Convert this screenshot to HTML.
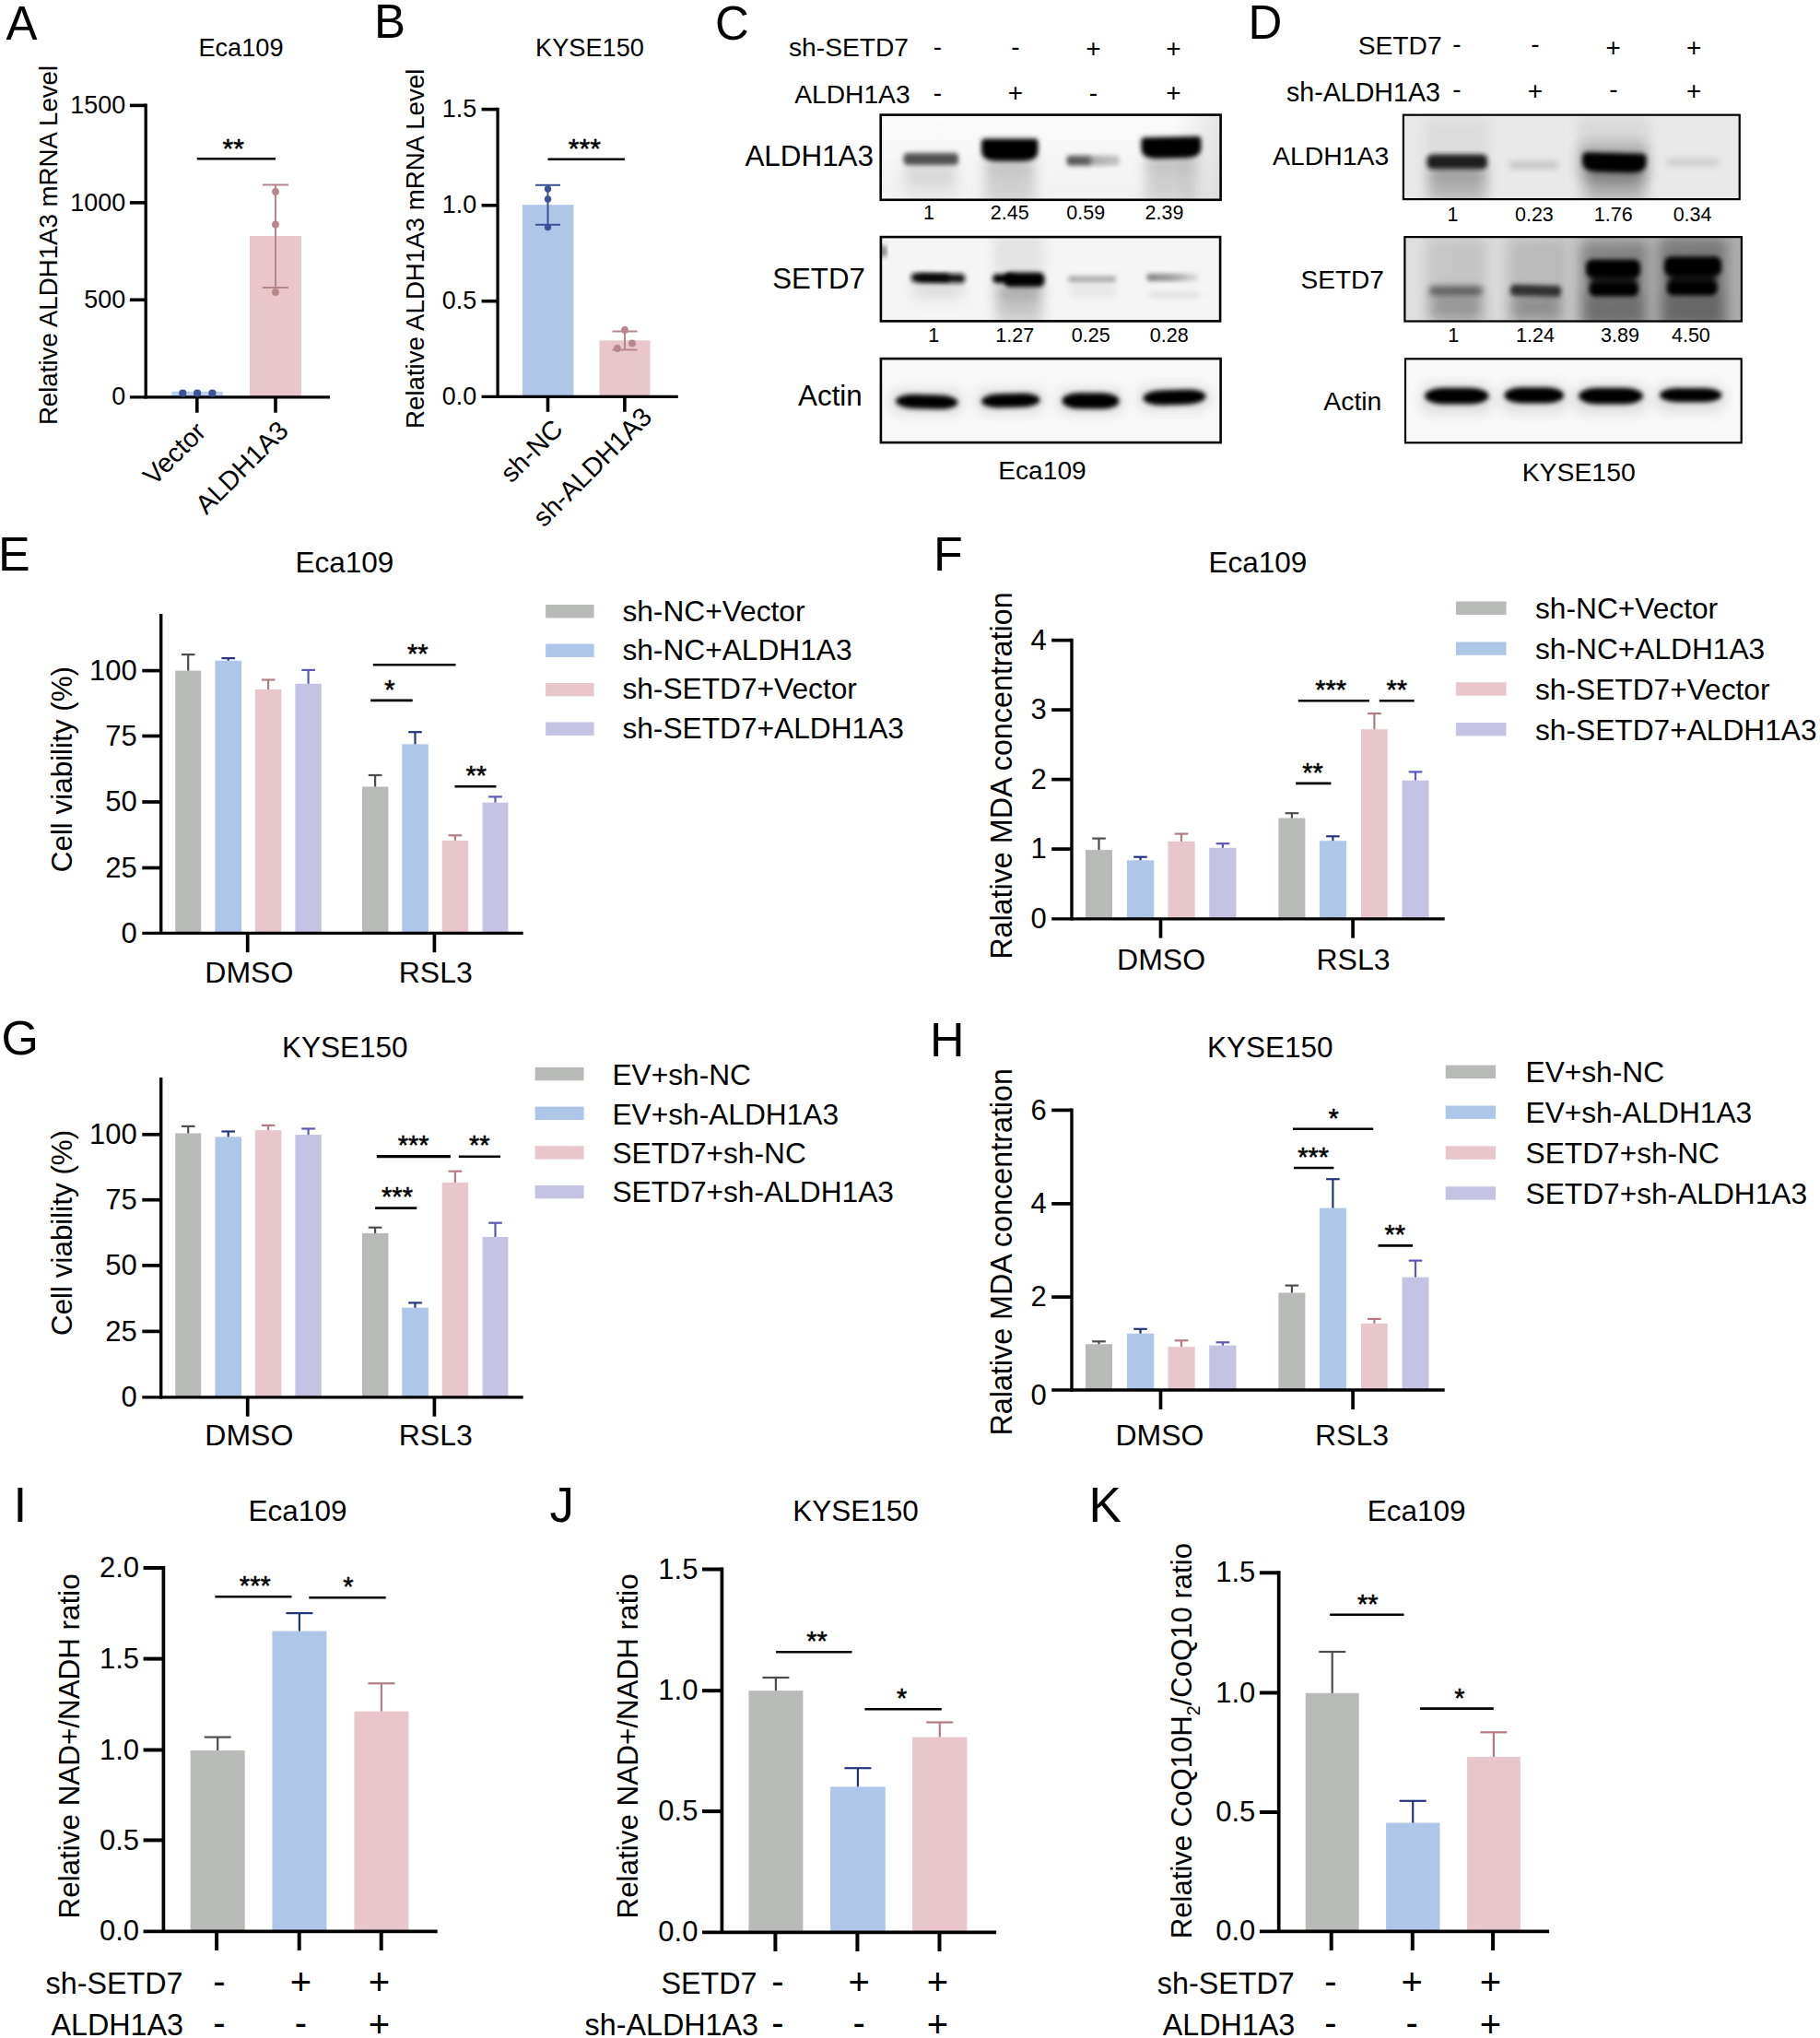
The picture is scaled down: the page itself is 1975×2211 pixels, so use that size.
<!DOCTYPE html>
<html lang="en"><head><meta charset="utf-8"><title>Figure</title>
<style>html,body{margin:0;padding:0;background:#fff;width:1975px;height:2211px;overflow:hidden}svg{display:block}text{font-family:"Liberation Sans", Arial, sans-serif;fill:#000}</style>
</head><body>
<svg width="1975" height="2211" viewBox="0 0 1975 2211">
<defs>
<filter id="b1" x="-30%" y="-250%" width="160%" height="600%"><feGaussianBlur stdDeviation="2.6"/></filter>
<filter id="b2" x="-30%" y="-300%" width="160%" height="700%"><feGaussianBlur stdDeviation="3.6"/></filter>
<filter id="b3" x="-50%" y="-150%" width="200%" height="400%"><feGaussianBlur stdDeviation="7"/></filter>
</defs>
<rect width="1975" height="2211" fill="#fff"/>
<text x="6.5" y="42.5" font-size="51" text-anchor="start">A</text>
<text x="406.0" y="41.0" font-size="51" text-anchor="start">B</text>
<text x="776.0" y="42.5" font-size="51" text-anchor="start">C</text>
<text x="1354.5" y="42.0" font-size="51" text-anchor="start">D</text>
<text x="-2.0" y="618.5" font-size="52" text-anchor="start">E</text>
<text x="1013.0" y="618.5" font-size="52" text-anchor="start">F</text>
<text x="1.5" y="1144.0" font-size="52" text-anchor="start">G</text>
<text x="1009.0" y="1146.0" font-size="52" text-anchor="start">H</text>
<text x="14.5" y="1651.2" font-size="53" text-anchor="start">I</text>
<text x="596.5" y="1651.2" font-size="53" text-anchor="start">J</text>
<text x="1181.5" y="1651.2" font-size="53" text-anchor="start">K</text>
<text x="261.5" y="60.5" font-size="27.2" text-anchor="middle">Eca109</text>
<text x="62.0" y="266.0" font-size="27.65" text-anchor="middle" transform="rotate(-90 62.0 266.0)">Relative ALDH1A3 mRNA Level</text>
<rect x="186.3" y="424.8" width="55.7" height="6.0" fill="#b9d0f0"/>
<rect x="271.0" y="256.0" width="56.0" height="174.8" fill="#e8c6cb"/>
<line x1="158.2" y1="112.6" x2="158.2" y2="432.4" stroke="#000" stroke-width="3.3000000000000003" stroke-linecap="butt"/>
<line x1="140.9" y1="430.8" x2="358.0" y2="430.8" stroke="#000" stroke-width="3.3000000000000003" stroke-linecap="butt"/>
<line x1="140.9" y1="114.4" x2="158.2" y2="114.4" stroke="#000" stroke-width="3.6" stroke-linecap="butt"/>
<text x="136.1" y="123.0" font-size="26.9" text-anchor="end">1500</text>
<line x1="140.9" y1="219.9" x2="158.2" y2="219.9" stroke="#000" stroke-width="3.6" stroke-linecap="butt"/>
<text x="136.1" y="228.5" font-size="26.9" text-anchor="end">1000</text>
<line x1="140.9" y1="325.3" x2="158.2" y2="325.3" stroke="#000" stroke-width="3.6" stroke-linecap="butt"/>
<text x="136.1" y="333.9" font-size="26.9" text-anchor="end">500</text>
<text x="136.1" y="439.4" font-size="26.9" text-anchor="end">0</text>
<line x1="213.8" y1="430.8" x2="213.8" y2="447.7" stroke="#000" stroke-width="3.6" stroke-linecap="butt"/>
<line x1="299.0" y1="430.8" x2="299.0" y2="447.7" stroke="#000" stroke-width="3.6" stroke-linecap="butt"/>
<circle cx="198.3" cy="426.5" r="4.1" fill="#3d5394"/>
<circle cx="214.1" cy="426.5" r="4.1" fill="#3d5394"/>
<circle cx="230.4" cy="426.5" r="4.1" fill="#3d5394"/>
<line x1="299.0" y1="200.5" x2="299.0" y2="312.0" stroke="#b9868c" stroke-width="2" stroke-linecap="butt"/>
<line x1="285.0" y1="200.5" x2="313.0" y2="200.5" stroke="#b9868c" stroke-width="2" stroke-linecap="butt"/>
<line x1="285.0" y1="312.0" x2="313.0" y2="312.0" stroke="#b9868c" stroke-width="2" stroke-linecap="butt"/>
<circle cx="299" cy="208" r="3.9" fill="#b9868c"/>
<circle cx="299" cy="243.5" r="3.9" fill="#b9868c"/>
<circle cx="299" cy="317" r="3.9" fill="#b9868c"/>
<line x1="213.8" y1="172.2" x2="299.0" y2="172.2" stroke="#000" stroke-width="2.4" stroke-linecap="butt"/>
<text x="253.2" y="170.8" font-size="30" text-anchor="middle" stroke="#000" stroke-width="0.5">**</text>
<text x="225.0" y="470.1" font-size="28.8" text-anchor="end" transform="rotate(-45 225.0 470.1)">Vector</text>
<text x="314.6" y="468.8" font-size="28.8" text-anchor="end" transform="rotate(-45 314.6 468.8)">ALDH1A3</text>
<text x="640.0" y="60.5" font-size="27.2" text-anchor="middle">KYSE150</text>
<text x="460.3" y="269.8" font-size="27.65" text-anchor="middle" transform="rotate(-90 460.3 269.8)">Relative ALDH1A3 mRNA Level</text>
<rect x="566.9" y="222.2" width="55.6" height="208.1" fill="#aec7e8"/>
<rect x="650.5" y="369.4" width="55.0" height="60.9" fill="#e8c6cb"/>
<line x1="540.1" y1="116.8" x2="540.1" y2="431.9" stroke="#000" stroke-width="3.3000000000000003" stroke-linecap="butt"/>
<line x1="522.6" y1="430.3" x2="735.8" y2="430.3" stroke="#000" stroke-width="3.3000000000000003" stroke-linecap="butt"/>
<line x1="522.6" y1="118.6" x2="540.1" y2="118.6" stroke="#000" stroke-width="3.6" stroke-linecap="butt"/>
<text x="517.1" y="127.2" font-size="26.9" text-anchor="end">1.5</text>
<line x1="522.6" y1="222.8" x2="540.1" y2="222.8" stroke="#000" stroke-width="3.6" stroke-linecap="butt"/>
<text x="517.1" y="231.4" font-size="26.9" text-anchor="end">1.0</text>
<line x1="522.6" y1="326.7" x2="540.1" y2="326.7" stroke="#000" stroke-width="3.6" stroke-linecap="butt"/>
<text x="517.1" y="335.3" font-size="26.9" text-anchor="end">0.5</text>
<text x="517.1" y="438.9" font-size="26.9" text-anchor="end">0.0</text>
<line x1="594.5" y1="430.3" x2="594.5" y2="446.8" stroke="#000" stroke-width="3.6" stroke-linecap="butt"/>
<line x1="677.9" y1="430.3" x2="677.9" y2="446.8" stroke="#000" stroke-width="3.6" stroke-linecap="butt"/>
<line x1="594.5" y1="200.8" x2="594.5" y2="243.8" stroke="#3d5296" stroke-width="2" stroke-linecap="butt"/>
<line x1="581.0" y1="200.8" x2="608.0" y2="200.8" stroke="#3d5296" stroke-width="2" stroke-linecap="butt"/>
<line x1="581.0" y1="243.8" x2="608.0" y2="243.8" stroke="#3d5296" stroke-width="2" stroke-linecap="butt"/>
<circle cx="594.5" cy="205" r="3.7" fill="#3d5296"/>
<circle cx="594.5" cy="216" r="3.7" fill="#3d5296"/>
<circle cx="594.5" cy="246.5" r="3.7" fill="#3d5296"/>
<line x1="678.0" y1="359.5" x2="678.0" y2="379.5" stroke="#b9868c" stroke-width="2" stroke-linecap="butt"/>
<line x1="664.5" y1="359.5" x2="691.5" y2="359.5" stroke="#b9868c" stroke-width="2" stroke-linecap="butt"/>
<line x1="664.5" y1="379.5" x2="691.5" y2="379.5" stroke="#b9868c" stroke-width="2" stroke-linecap="butt"/>
<circle cx="678" cy="358" r="3.9" fill="#b9868c"/>
<circle cx="686" cy="372.5" r="3.9" fill="#b9868c"/>
<circle cx="670" cy="378" r="3.9" fill="#b9868c"/>
<line x1="594.5" y1="172.8" x2="677.9" y2="172.8" stroke="#000" stroke-width="2.4" stroke-linecap="butt"/>
<text x="634.3" y="171.4" font-size="30" text-anchor="middle" stroke="#000" stroke-width="0.5">***</text>
<text x="612.6" y="467.4" font-size="28.8" text-anchor="end" transform="rotate(-45 612.6 467.4)">sh-NC</text>
<text x="709.1" y="454.2" font-size="28.8" text-anchor="end" transform="rotate(-45 709.1 454.2)">sh-ALDH1A3</text>
<linearGradient id="sm1" x1="0" x2="0" y1="0" y2="1"><stop offset="0" stop-color="#000" stop-opacity="0.24"/><stop offset="0.4" stop-color="#000" stop-opacity="0.16"/><stop offset="1" stop-color="#000" stop-opacity="0.12"/></linearGradient>
<linearGradient id="sm2" x1="0" x2="0" y1="0" y2="1"><stop offset="0" stop-color="#000" stop-opacity="0.16"/><stop offset="1" stop-color="#000" stop-opacity="0.03"/></linearGradient>
<linearGradient id="sm3" x1="0" x2="0" y1="0" y2="1"><stop offset="0" stop-color="#000" stop-opacity="0.4"/><stop offset="0.4" stop-color="#000" stop-opacity="0.22"/><stop offset="1" stop-color="#000" stop-opacity="0.14"/></linearGradient>
<linearGradient id="bgc1" x1="0" x2="0" y1="0" y2="1"><stop offset="0" stop-color="#fbfbfb" stop-opacity="1"/><stop offset="1" stop-color="#f1f1f1" stop-opacity="1"/></linearGradient>
<linearGradient id="bgc1h" x1="0" x2="1" y1="0" y2="0"><stop offset="0" stop-color="#000" stop-opacity="0.0"/><stop offset="0.86" stop-color="#000" stop-opacity="0.0"/><stop offset="1" stop-color="#000" stop-opacity="0.09"/></linearGradient>
<linearGradient id="fadeR" x1="0" x2="1" y1="0" y2="0"><stop offset="0" stop-color="#444" stop-opacity="0.9"/><stop offset="0.42" stop-color="#444" stop-opacity="0.85"/><stop offset="0.5" stop-color="#777" stop-opacity="0.6"/><stop offset="1" stop-color="#888" stop-opacity="0.45"/></linearGradient>
<linearGradient id="fadeR2" x1="0" x2="1" y1="0" y2="0"><stop offset="0" stop-color="#555" stop-opacity="0.75"/><stop offset="0.55" stop-color="#666" stop-opacity="0.6"/><stop offset="1" stop-color="#999" stop-opacity="0.25"/></linearGradient>
<text x="986.0" y="61.0" font-size="28.2" text-anchor="end">sh-SETD7</text>
<text x="987.6" y="112.0" font-size="28.2" text-anchor="end">ALDH1A3</text>
<text x="1017.3" y="60.0" font-size="28" text-anchor="middle">-</text>
<text x="1102.0" y="60.0" font-size="28" text-anchor="middle">-</text>
<text x="1186.4" y="62.1" font-size="28" text-anchor="middle">+</text>
<text x="1273.4" y="62.1" font-size="28" text-anchor="middle">+</text>
<text x="1017.3" y="110.4" font-size="28" text-anchor="middle">-</text>
<text x="1102.0" y="109.9" font-size="28" text-anchor="middle">+</text>
<text x="1186.4" y="110.4" font-size="28" text-anchor="middle">-</text>
<text x="1273.4" y="109.9" font-size="28" text-anchor="middle">+</text>
<text x="948.0" y="179.7" font-size="31.4" text-anchor="end">ALDH1A3</text>
<text x="938.8" y="312.5" font-size="31.2" text-anchor="end">SETD7</text>
<text x="935.8" y="440.0" font-size="31.4" text-anchor="end">Actin</text>
<clipPath id="cc1"><rect x="954.4" y="123.3" width="371.5" height="94.8"/></clipPath>
<rect x="954.4" y="123.3" width="371.5" height="94.8" fill="url(#bgc1)"/>
<g clip-path="url(#cc1)">
<rect x="954" y="123" width="373" height="96" fill="url(#bgc1h)"/>
<rect x="982.0" y="180.0" width="56.0" height="34.0" fill="url(#sm2)" filter="url(#b3)"/>
<rect x="1069.0" y="172.0" width="54.0" height="50.0" fill="url(#sm1)" filter="url(#b3)"/>
<rect x="1243.0" y="170.0" width="56.0" height="52.0" fill="url(#sm1)" filter="url(#b3)"/>
<rect x="980.5" y="166.0" width="59.5" height="13.0" rx="4.5" fill="#3a3a3a" opacity="0.88" filter="url(#b1)"/>
<path d="M1069.0,150.5 L1122.5,150.5 Q1126.5,150.5 1126.5,154.5 L1126.5,163.8 Q1126.5,174.8 1108.9,174.8 L1082.6,174.8 Q1065.0,174.8 1065.0,163.8 L1065.0,154.5 Q1065.0,150.5 1069.0,150.5 Z" fill="#000" opacity="1" filter="url(#b1)"/>
<rect x="1157.5" y="168.8" width="57.5" height="11" rx="4" fill="url(#fadeR)" filter="url(#b1)"/>
<path d="M1242.5,148.5 L1299.5,148.5 Q1303.5,148.5 1303.5,152.5 L1303.5,160.8 Q1303.5,171.8 1285.9,171.8 L1256.1,171.8 Q1238.5,171.8 1238.5,160.8 L1238.5,152.5 Q1238.5,148.5 1242.5,148.5 Z" fill="#000" opacity="1" filter="url(#b1)" transform="rotate(-1.2 1271.0 160.2)"/>
</g>
<rect x="955.70" y="124.60" width="368.90" height="92.20" fill="none" stroke="#000" stroke-width="2.6"/>
<clipPath id="cc2"><rect x="954.6" y="255.8" width="370.8" height="93.9"/></clipPath>
<rect x="954.6" y="255.8" width="370.8" height="93.9" fill="#f5f5f5"/>
<g clip-path="url(#cc2)">
<rect x="956.0" y="266.0" width="6.0" height="13.0" rx="4.5" fill="#555" opacity="0.8" filter="url(#b1)"/>
<rect x="1078.0" y="254.0" width="55.0" height="46.0" rx="3.0" fill="#000" opacity="0.07" filter="url(#b3)"/>
<rect x="991.0" y="306.0" width="54.0" height="21.0" fill="url(#sm2)" filter="url(#b3)"/>
<rect x="1081.0" y="309.0" width="50.0" height="43.0" fill="url(#sm3)" filter="url(#b3)"/>
<rect x="989.0" y="296.8" width="58.0" height="9.6" rx="3.4" fill="#111" opacity="0.97" filter="url(#b1)" transform="rotate(1.0 1018.0 301.6)"/>
<rect x="996.0" y="297.5" width="34.0" height="8.0" rx="2.8" fill="#000" opacity="0.8" filter="url(#b1)"/>
<rect x="1077.5" y="297.5" width="22.5" height="9.5" rx="3.3" fill="#000" opacity="1" filter="url(#b1)"/>
<rect x="1090.0" y="295.6" width="43.5" height="15.7" rx="6.0" fill="#000" opacity="1" filter="url(#b1)"/>
<rect x="1159.0" y="299.8" width="52.0" height="6.0" rx="2.1" fill="#888" opacity="0.75" filter="url(#b1)"/>
<rect x="1244.5" y="297" width="56" height="8" rx="3.5" fill="url(#fadeR2)" filter="url(#b1)"/>
<rect x="1247.0" y="316.5" width="55.0" height="6.5" rx="2.3" fill="#000" opacity="0.09" filter="url(#b2)"/>
<rect x="1160.0" y="308.0" width="52.0" height="14.0" rx="4.9" fill="#000" opacity="0.05" filter="url(#b2)"/>
</g>
<rect x="955.90" y="257.10" width="368.20" height="91.30" fill="none" stroke="#000" stroke-width="2.6"/>
<clipPath id="cc3"><rect x="954.6" y="387.8" width="371.3" height="93.6"/></clipPath>
<rect x="954.6" y="387.8" width="371.3" height="93.6" fill="#f8f8f8"/>
<g clip-path="url(#cc3)">
<rect x="966.0" y="423.0" width="79.0" height="26.0" rx="9.1" fill="#000" opacity="0.1" filter="url(#b3)"/>
<rect x="1060.0" y="422.0" width="73.0" height="26.0" rx="9.1" fill="#000" opacity="0.1" filter="url(#b3)"/>
<rect x="1148.0" y="422.0" width="71.0" height="27.0" rx="9.4" fill="#000" opacity="0.1" filter="url(#b3)"/>
<rect x="1236.0" y="419.0" width="77.0" height="26.0" rx="9.1" fill="#000" opacity="0.1" filter="url(#b3)"/>
<rect x="972.0" y="428.2" width="67.5" height="15.2" rx="20.2" ry="7.6" fill="#000" opacity="1" filter="url(#b1)" transform="rotate(1.5 1005.8 435.8)"/>
<rect x="1065.0" y="427.0" width="63.5" height="15.0" rx="19.1" ry="7.5" fill="#000" opacity="1" filter="url(#b1)" transform="rotate(-1.5 1096.8 434.5)"/>
<rect x="1152.5" y="426.2" width="62.0" height="17.4" rx="18.6" ry="8.7" fill="#000" opacity="1" filter="url(#b1)" transform="rotate(0.3 1183.5 434.9)"/>
<rect x="1240.5" y="423.0" width="68.0" height="16.2" rx="20.4" ry="8.1" fill="#000" opacity="1" filter="url(#b1)" transform="rotate(-1.8 1274.5 431.1)"/>
</g>
<rect x="955.90" y="389.10" width="368.70" height="91.00" fill="none" stroke="#000" stroke-width="2.6"/>
<text x="1008.0" y="238.0" font-size="21.5" text-anchor="middle">1</text>
<text x="1095.7" y="238.0" font-size="21.5" text-anchor="middle">2.45</text>
<text x="1178.2" y="238.0" font-size="21.5" text-anchor="middle">0.59</text>
<text x="1263.5" y="238.0" font-size="21.5" text-anchor="middle">2.39</text>
<text x="1013.3" y="370.9" font-size="21.5" text-anchor="middle">1</text>
<text x="1101.3" y="370.9" font-size="21.5" text-anchor="middle">1.27</text>
<text x="1183.8" y="370.9" font-size="21.5" text-anchor="middle">0.25</text>
<text x="1268.8" y="370.9" font-size="21.5" text-anchor="middle">0.28</text>
<text x="1131.0" y="519.6" font-size="28.2" text-anchor="middle">Eca109</text>
<text x="1564.6" y="59.0" font-size="28.2" text-anchor="end">SETD7</text>
<text x="1562.9" y="109.9" font-size="28.6" text-anchor="end">sh-ALDH1A3</text>
<text x="1580.8" y="57.0" font-size="28" text-anchor="middle">-</text>
<text x="1665.9" y="57.0" font-size="28" text-anchor="middle">-</text>
<text x="1750.8" y="60.9" font-size="28" text-anchor="middle">+</text>
<text x="1838.3" y="60.9" font-size="28" text-anchor="middle">+</text>
<text x="1580.8" y="106.0" font-size="28" text-anchor="middle">-</text>
<text x="1665.9" y="108.0" font-size="28" text-anchor="middle">+</text>
<text x="1750.8" y="106.0" font-size="28" text-anchor="middle">-</text>
<text x="1838.3" y="108.0" font-size="28" text-anchor="middle">+</text>
<text x="1507.3" y="179.3" font-size="28.4" text-anchor="end">ALDH1A3</text>
<text x="1501.8" y="313.2" font-size="28" text-anchor="end">SETD7</text>
<text x="1499.4" y="445.4" font-size="28.4" text-anchor="end">Actin</text>
<linearGradient id="sd1" x1="0" x2="0" y1="0" y2="1"><stop offset="0" stop-color="#000" stop-opacity="0.35"/><stop offset="0.5" stop-color="#000" stop-opacity="0.2"/><stop offset="1" stop-color="#000" stop-opacity="0.12"/></linearGradient>
<clipPath id="cd1"><rect x="1521.8" y="123.6" width="367.0" height="93.6"/></clipPath>
<rect x="1521.8" y="123.6" width="367.0" height="93.6" fill="#e9e9e9"/>
<g clip-path="url(#cd1)">
<rect x="1546.0" y="128.0" width="70.0" height="92.0" rx="3.0" fill="#000" opacity="0.05" filter="url(#b3)"/>
<rect x="1712.0" y="128.0" width="78.0" height="92.0" rx="3.0" fill="#000" opacity="0.07" filter="url(#b3)"/>
<rect x="1551.0" y="181.0" width="61.0" height="41.0" fill="url(#sd1)" filter="url(#b3)"/>
<rect x="1722.0" y="183.0" width="62.0" height="39.0" fill="url(#sd1)" filter="url(#b3)"/>
<rect x="1714.0" y="156.0" width="74.0" height="40.0" rx="8.0" fill="#000" opacity="0.22" filter="url(#b3)"/>
<rect x="1548.5" y="167.5" width="65.5" height="16.0" rx="5.6" fill="#151515" opacity="0.95" filter="url(#b1)"/>
<rect x="1638.0" y="175.0" width="53.0" height="8.0" rx="2.8" fill="#000" opacity="0.16" filter="url(#b2)"/>
<path d="M1722.0,166.0 L1781.5,166.0 Q1786.5,166.0 1786.5,171.0 L1786.5,176.0 Q1786.5,187.0 1768.9,187.0 L1734.6,187.0 Q1717.0,187.0 1717.0,176.0 L1717.0,171.0 Q1717.0,166.0 1722.0,166.0 Z" fill="#000" opacity="1" filter="url(#b1)" transform="rotate(1.5 1751.8 176.5)"/>
<rect x="1809.0" y="172.5" width="56.0" height="7.5" rx="2.6" fill="#000" opacity="0.13" filter="url(#b2)"/>
</g>
<rect x="1522.90" y="124.70" width="364.80" height="91.40" fill="none" stroke="#000" stroke-width="2.2"/>
<linearGradient id="gd2" x1="0" x2="1" y1="0" y2="0"><stop offset="0" stop-color="#e0e0e0" stop-opacity="1"/><stop offset="0.44" stop-color="#d6d6d6" stop-opacity="1"/><stop offset="0.56" stop-color="#b8b8b8" stop-opacity="1"/><stop offset="1" stop-color="#adadad" stop-opacity="1"/></linearGradient>
<linearGradient id="sd2" x1="0" x2="0" y1="0" y2="1"><stop offset="0" stop-color="#000" stop-opacity="0.3"/><stop offset="1" stop-color="#000" stop-opacity="0.15"/></linearGradient>
<clipPath id="cd2"><rect x="1523.3" y="256" width="367.7" height="93.6"/></clipPath>
<rect x="1523.3" y="256" width="367.7" height="93.6" fill="#d0d0d0"/>
<g clip-path="url(#cd2)">
<rect x="1523" y="256" width="370" height="94" fill="url(#gd2)"/>
<rect x="1548.0" y="258.0" width="64.0" height="94.0" rx="3.0" fill="#000" opacity="0.1" filter="url(#b3)"/>
<rect x="1636.0" y="258.0" width="62.0" height="94.0" rx="3.0" fill="#000" opacity="0.13" filter="url(#b3)"/>
<rect x="1714.0" y="262.0" width="74.0" height="94.0" rx="6.0" fill="#000" opacity="0.27" filter="url(#b3)"/>
<rect x="1720.0" y="318.0" width="62.0" height="34.0" rx="4.0" fill="#000" opacity="0.16" filter="url(#b3)"/>
<rect x="1800.0" y="258.0" width="74.0" height="98.0" rx="6.0" fill="#000" opacity="0.3" filter="url(#b3)"/>
<rect x="1806.0" y="316.0" width="62.0" height="36.0" rx="4.0" fill="#000" opacity="0.16" filter="url(#b3)"/>
<rect x="1553.0" y="321.0" width="54.0" height="29.0" fill="url(#sd2)" filter="url(#b3)"/>
<rect x="1641.0" y="322.0" width="52.0" height="28.0" fill="url(#sd2)" filter="url(#b3)"/>
<rect x="1551.0" y="310.5" width="57.5" height="10.0" rx="3.5" fill="#444" opacity="0.8" filter="url(#b2)"/>
<rect x="1639.0" y="309.2" width="55.0" height="12.4" rx="4.3" fill="#222" opacity="0.9" filter="url(#b1)" transform="rotate(1.5 1666.5 315.4)"/>
<rect x="1721.0" y="281.5" width="59.0" height="19.5" rx="7.0" fill="#000" opacity="1" filter="url(#b1)"/>
<rect x="1724.5" y="306.0" width="53.5" height="15.6" rx="6.0" fill="#000" opacity="1" filter="url(#b1)"/>
<rect x="1806.0" y="278.2" width="62.0" height="20.8" rx="7.0" fill="#000" opacity="1" filter="url(#b1)"/>
<rect x="1809.0" y="305.0" width="54.5" height="15.5" rx="6.0" fill="#000" opacity="1" filter="url(#b1)"/>
<rect x="1726.0" y="294.0" width="50.0" height="17.0" rx="4.0" fill="#000" opacity="0.8" filter="url(#b2)"/>
<rect x="1811.0" y="292.0" width="51.0" height="19.0" rx="4.0" fill="#000" opacity="0.85" filter="url(#b2)"/>
</g>
<rect x="1524.40" y="257.10" width="365.50" height="91.40" fill="none" stroke="#000" stroke-width="2.2"/>
<clipPath id="cd3"><rect x="1523.9" y="388.2" width="366.9" height="93.2"/></clipPath>
<rect x="1523.9" y="388.2" width="366.9" height="93.2" fill="#f8f8f8"/>
<g clip-path="url(#cd3)">
<rect x="1542.0" y="417.0" width="78.0" height="32.0" rx="11.2" fill="#000" opacity="0.1" filter="url(#b3)"/>
<rect x="1628.0" y="417.0" width="74.0" height="31.0" rx="10.8" fill="#000" opacity="0.1" filter="url(#b3)"/>
<rect x="1708.0" y="417.0" width="80.0" height="32.0" rx="11.2" fill="#000" opacity="0.1" filter="url(#b3)"/>
<rect x="1796.0" y="417.0" width="76.0" height="30.0" rx="10.5" fill="#000" opacity="0.1" filter="url(#b3)"/>
<rect x="1546.0" y="420.8" width="69.5" height="17.6" rx="20.8" ry="8.8" fill="#000" opacity="1" filter="url(#b1)"/>
<rect x="1632.5" y="420.3" width="64.5" height="17.1" rx="19.3" ry="8.5" fill="#000" opacity="1" filter="url(#b1)"/>
<rect x="1713.0" y="420.8" width="70.0" height="17.6" rx="21.0" ry="8.8" fill="#000" opacity="1" filter="url(#b1)"/>
<rect x="1801.0" y="421.0" width="67.5" height="15.2" rx="20.2" ry="7.6" fill="#000" opacity="1" filter="url(#b1)"/>
</g>
<rect x="1525.00" y="389.30" width="364.70" height="91.00" fill="none" stroke="#000" stroke-width="2.2"/>
<text x="1576.6" y="240.4" font-size="21.5" text-anchor="middle">1</text>
<text x="1664.9" y="240.4" font-size="21.5" text-anchor="middle">0.23</text>
<text x="1750.8" y="240.4" font-size="21.5" text-anchor="middle">1.76</text>
<text x="1836.6" y="240.4" font-size="21.5" text-anchor="middle">0.34</text>
<text x="1577.3" y="370.9" font-size="21.5" text-anchor="middle">1</text>
<text x="1666.0" y="370.9" font-size="21.5" text-anchor="middle">1.24</text>
<text x="1758.0" y="370.9" font-size="21.5" text-anchor="middle">3.89</text>
<text x="1834.9" y="370.9" font-size="21.5" text-anchor="middle">4.50</text>
<text x="1713.2" y="522.0" font-size="28.4" text-anchor="middle">KYSE150</text>
<text x="373.9" y="621.0" font-size="31.5" text-anchor="middle">Eca109</text>
<rect x="190.2" y="727.6" width="28.0" height="284.8" fill="#b8bab8"/>
<line x1="204.2" y1="710.1" x2="204.2" y2="727.6" stroke="#4d4d4d" stroke-width="2.2" stroke-linecap="butt"/>
<line x1="196.9" y1="710.1" x2="211.5" y2="710.1" stroke="#4d4d4d" stroke-width="2.2" stroke-linecap="butt"/>
<rect x="233.4" y="716.7" width="28.7" height="295.7" fill="#aec7e8"/>
<line x1="247.7" y1="714.1" x2="247.7" y2="716.7" stroke="#22357f" stroke-width="2.2" stroke-linecap="butt"/>
<line x1="240.4" y1="714.1" x2="255.0" y2="714.1" stroke="#22357f" stroke-width="2.2" stroke-linecap="butt"/>
<rect x="276.9" y="748.0" width="28.4" height="264.4" fill="#e8c6cb"/>
<line x1="291.1" y1="737.5" x2="291.1" y2="748.0" stroke="#b37b82" stroke-width="2.2" stroke-linecap="butt"/>
<line x1="283.8" y1="737.5" x2="298.4" y2="737.5" stroke="#b37b82" stroke-width="2.2" stroke-linecap="butt"/>
<rect x="320.4" y="741.8" width="28.4" height="270.7" fill="#c5c3e3"/>
<line x1="334.6" y1="726.9" x2="334.6" y2="741.8" stroke="#5959b5" stroke-width="2.2" stroke-linecap="butt"/>
<line x1="327.3" y1="726.9" x2="341.9" y2="726.9" stroke="#5959b5" stroke-width="2.2" stroke-linecap="butt"/>
<rect x="393.0" y="853.5" width="28.4" height="158.9" fill="#b8bab8"/>
<line x1="407.1" y1="841.0" x2="407.1" y2="853.5" stroke="#4d4d4d" stroke-width="2.2" stroke-linecap="butt"/>
<line x1="399.8" y1="841.0" x2="414.4" y2="841.0" stroke="#4d4d4d" stroke-width="2.2" stroke-linecap="butt"/>
<rect x="436.2" y="807.4" width="28.7" height="205.1" fill="#aec7e8"/>
<line x1="450.5" y1="794.2" x2="450.5" y2="807.4" stroke="#22357f" stroke-width="2.2" stroke-linecap="butt"/>
<line x1="443.2" y1="794.2" x2="457.8" y2="794.2" stroke="#22357f" stroke-width="2.2" stroke-linecap="butt"/>
<rect x="479.7" y="911.9" width="28.4" height="100.6" fill="#e8c6cb"/>
<line x1="493.9" y1="906.3" x2="493.9" y2="911.9" stroke="#b37b82" stroke-width="2.2" stroke-linecap="butt"/>
<line x1="486.6" y1="906.3" x2="501.2" y2="906.3" stroke="#b37b82" stroke-width="2.2" stroke-linecap="butt"/>
<rect x="523.5" y="870.7" width="28.0" height="141.8" fill="#c5c3e3"/>
<line x1="537.5" y1="864.4" x2="537.5" y2="870.7" stroke="#5959b5" stroke-width="2.2" stroke-linecap="butt"/>
<line x1="530.2" y1="864.4" x2="544.8" y2="864.4" stroke="#5959b5" stroke-width="2.2" stroke-linecap="butt"/>
<line x1="174.7" y1="666.1" x2="174.7" y2="1014.1" stroke="#000" stroke-width="3.4000000000000004" stroke-linecap="butt"/>
<line x1="154.3" y1="1012.4" x2="567.7" y2="1012.4" stroke="#000" stroke-width="3.4000000000000004" stroke-linecap="butt"/>
<line x1="154.3" y1="727.6" x2="174.7" y2="727.6" stroke="#000" stroke-width="3.7" stroke-linecap="butt"/>
<text x="148.8" y="737.7" font-size="31" text-anchor="end">100</text>
<line x1="154.3" y1="798.5" x2="174.7" y2="798.5" stroke="#000" stroke-width="3.7" stroke-linecap="butt"/>
<text x="148.8" y="808.6" font-size="31" text-anchor="end">75</text>
<line x1="154.3" y1="870.0" x2="174.7" y2="870.0" stroke="#000" stroke-width="3.7" stroke-linecap="butt"/>
<text x="148.8" y="880.1" font-size="31" text-anchor="end">50</text>
<line x1="154.3" y1="941.5" x2="174.7" y2="941.5" stroke="#000" stroke-width="3.7" stroke-linecap="butt"/>
<text x="148.8" y="951.6" font-size="31" text-anchor="end">25</text>
<text x="148.8" y="1022.5" font-size="31" text-anchor="end">0</text>
<line x1="268.7" y1="1012.4" x2="268.7" y2="1033.2" stroke="#000" stroke-width="3.7" stroke-linecap="butt"/>
<line x1="471.4" y1="1012.4" x2="471.4" y2="1033.2" stroke="#000" stroke-width="3.7" stroke-linecap="butt"/>
<text x="77.6" y="834.6" font-size="31.4" text-anchor="middle" transform="rotate(-90 77.6 834.6)">Cell viability (%)</text>
<text x="270.3" y="1065.5" font-size="32.0" text-anchor="middle">DMSO</text>
<text x="472.7" y="1065.5" font-size="32.0" text-anchor="middle">RSL3</text>
<line x1="404.8" y1="721.3" x2="494.5" y2="721.3" stroke="#000" stroke-width="2.6" stroke-linecap="butt"/>
<text x="453.3" y="719.1" font-size="29" text-anchor="middle" stroke="#000" stroke-width="0.5">**</text>
<line x1="402.2" y1="759.9" x2="447.7" y2="759.9" stroke="#000" stroke-width="2.6" stroke-linecap="butt"/>
<text x="422.9" y="757.7" font-size="29" text-anchor="middle" stroke="#000" stroke-width="0.5">*</text>
<line x1="493.5" y1="853.2" x2="538.4" y2="853.2" stroke="#000" stroke-width="2.6" stroke-linecap="butt"/>
<text x="516.8" y="851.0" font-size="29" text-anchor="middle" stroke="#000" stroke-width="0.5">**</text>
<rect x="592.1" y="656.0" width="52.5" height="14.4" fill="#b8bab8"/>
<text x="675.4" y="673.6" font-size="31.7" text-anchor="start">sh-NC+Vector</text>
<rect x="592.1" y="698.5" width="52.5" height="14.4" fill="#aec7e8"/>
<text x="675.4" y="716.0" font-size="31.7" text-anchor="start">sh-NC+ALDH1A3</text>
<rect x="592.1" y="741.0" width="52.5" height="14.4" fill="#e8c6cb"/>
<text x="675.4" y="758.4" font-size="31.7" text-anchor="start">sh-SETD7+Vector</text>
<rect x="592.1" y="783.5" width="52.5" height="14.4" fill="#c5c3e3"/>
<text x="675.4" y="800.8" font-size="31.7" text-anchor="start">sh-SETD7+ALDH1A3</text>
<text x="1364.8" y="621.1" font-size="31.5" text-anchor="middle">Eca109</text>
<rect x="1178.0" y="922.1" width="29.0" height="74.8" fill="#b8bab8"/>
<line x1="1192.5" y1="909.6" x2="1192.5" y2="922.1" stroke="#4d4d4d" stroke-width="2.2" stroke-linecap="butt"/>
<line x1="1185.2" y1="909.6" x2="1199.8" y2="909.6" stroke="#4d4d4d" stroke-width="2.2" stroke-linecap="butt"/>
<rect x="1222.9" y="933.3" width="29.3" height="63.6" fill="#aec7e8"/>
<line x1="1237.5" y1="929.7" x2="1237.5" y2="933.3" stroke="#22357f" stroke-width="2.2" stroke-linecap="butt"/>
<line x1="1230.2" y1="929.7" x2="1244.8" y2="929.7" stroke="#22357f" stroke-width="2.2" stroke-linecap="butt"/>
<rect x="1267.4" y="912.9" width="29.3" height="84.1" fill="#e8c6cb"/>
<line x1="1282.0" y1="904.6" x2="1282.0" y2="912.9" stroke="#b37b82" stroke-width="2.2" stroke-linecap="butt"/>
<line x1="1274.7" y1="904.6" x2="1289.3" y2="904.6" stroke="#b37b82" stroke-width="2.2" stroke-linecap="butt"/>
<rect x="1312.2" y="919.8" width="29.3" height="77.1" fill="#c5c3e3"/>
<line x1="1326.9" y1="915.2" x2="1326.9" y2="919.8" stroke="#5959b5" stroke-width="2.2" stroke-linecap="butt"/>
<line x1="1319.6" y1="915.2" x2="1334.2" y2="915.2" stroke="#5959b5" stroke-width="2.2" stroke-linecap="butt"/>
<rect x="1387.4" y="887.5" width="29.0" height="109.5" fill="#b8bab8"/>
<line x1="1401.9" y1="882.2" x2="1401.9" y2="887.5" stroke="#4d4d4d" stroke-width="2.2" stroke-linecap="butt"/>
<line x1="1394.6" y1="882.2" x2="1409.2" y2="882.2" stroke="#4d4d4d" stroke-width="2.2" stroke-linecap="butt"/>
<rect x="1431.9" y="912.2" width="29.0" height="84.7" fill="#aec7e8"/>
<line x1="1446.4" y1="907.3" x2="1446.4" y2="912.2" stroke="#22357f" stroke-width="2.2" stroke-linecap="butt"/>
<line x1="1439.1" y1="907.3" x2="1453.7" y2="907.3" stroke="#22357f" stroke-width="2.2" stroke-linecap="butt"/>
<rect x="1477.0" y="791.2" width="28.7" height="205.7" fill="#e8c6cb"/>
<line x1="1491.4" y1="774.1" x2="1491.4" y2="791.2" stroke="#b37b82" stroke-width="2.2" stroke-linecap="butt"/>
<line x1="1484.1" y1="774.1" x2="1498.7" y2="774.1" stroke="#b37b82" stroke-width="2.2" stroke-linecap="butt"/>
<rect x="1521.5" y="846.6" width="29.0" height="150.3" fill="#c5c3e3"/>
<line x1="1536.0" y1="837.4" x2="1536.0" y2="846.6" stroke="#5959b5" stroke-width="2.2" stroke-linecap="butt"/>
<line x1="1528.7" y1="837.4" x2="1543.3" y2="837.4" stroke="#5959b5" stroke-width="2.2" stroke-linecap="butt"/>
<line x1="1163.0" y1="692.8" x2="1163.0" y2="998.6" stroke="#000" stroke-width="3.4000000000000004" stroke-linecap="butt"/>
<line x1="1141.2" y1="996.9" x2="1567.7" y2="996.9" stroke="#000" stroke-width="3.4000000000000004" stroke-linecap="butt"/>
<line x1="1141.2" y1="694.6" x2="1163.0" y2="694.6" stroke="#000" stroke-width="3.7" stroke-linecap="butt"/>
<text x="1135.7" y="704.7" font-size="31" text-anchor="end">4</text>
<line x1="1141.2" y1="770.1" x2="1163.0" y2="770.1" stroke="#000" stroke-width="3.7" stroke-linecap="butt"/>
<text x="1135.7" y="780.2" font-size="31" text-anchor="end">3</text>
<line x1="1141.2" y1="845.6" x2="1163.0" y2="845.6" stroke="#000" stroke-width="3.7" stroke-linecap="butt"/>
<text x="1135.7" y="855.7" font-size="31" text-anchor="end">2</text>
<line x1="1141.2" y1="921.1" x2="1163.0" y2="921.1" stroke="#000" stroke-width="3.7" stroke-linecap="butt"/>
<text x="1135.7" y="931.2" font-size="31" text-anchor="end">1</text>
<text x="1135.7" y="1007.0" font-size="31" text-anchor="end">0</text>
<line x1="1259.5" y1="996.9" x2="1259.5" y2="1017.7" stroke="#000" stroke-width="3.7" stroke-linecap="butt"/>
<line x1="1468.1" y1="996.9" x2="1468.1" y2="1017.7" stroke="#000" stroke-width="3.7" stroke-linecap="butt"/>
<text x="1097.8" y="841.6" font-size="32.3" text-anchor="middle" transform="rotate(-90 1097.8 841.6)">Ralative MDA concentration</text>
<text x="1260.1" y="1052.0" font-size="32.0" text-anchor="middle">DMSO</text>
<text x="1468.5" y="1052.0" font-size="32.0" text-anchor="middle">RSL3</text>
<line x1="1408.8" y1="760.2" x2="1485.9" y2="760.2" stroke="#000" stroke-width="2.6" stroke-linecap="butt"/>
<text x="1444.1" y="758.0" font-size="29" text-anchor="middle" stroke="#000" stroke-width="0.5">***</text>
<line x1="1496.8" y1="760.2" x2="1534.7" y2="760.2" stroke="#000" stroke-width="2.6" stroke-linecap="butt"/>
<text x="1515.8" y="758.0" font-size="29" text-anchor="middle" stroke="#000" stroke-width="0.5">**</text>
<line x1="1406.2" y1="849.9" x2="1444.4" y2="849.9" stroke="#000" stroke-width="2.6" stroke-linecap="butt"/>
<text x="1424.5" y="847.7" font-size="29" text-anchor="middle" stroke="#000" stroke-width="0.5">**</text>
<rect x="1579.9" y="652.5" width="54.6" height="14.4" fill="#b8bab8"/>
<text x="1666.0" y="670.5" font-size="31.7" text-anchor="start">sh-NC+Vector</text>
<rect x="1579.9" y="696.4" width="54.6" height="14.4" fill="#aec7e8"/>
<text x="1666.0" y="714.6" font-size="31.7" text-anchor="start">sh-NC+ALDH1A3</text>
<rect x="1579.9" y="740.2" width="54.6" height="14.4" fill="#e8c6cb"/>
<text x="1666.0" y="758.6" font-size="31.7" text-anchor="start">sh-SETD7+Vector</text>
<rect x="1579.9" y="784.0" width="54.6" height="14.4" fill="#c5c3e3"/>
<text x="1666.0" y="802.7" font-size="31.7" text-anchor="start">sh-SETD7+ALDH1A3</text>
<text x="374.2" y="1146.7" font-size="31.5" text-anchor="middle">KYSE150</text>
<rect x="190.2" y="1229.5" width="28.0" height="286.5" fill="#b8bab8"/>
<line x1="204.2" y1="1221.9" x2="204.2" y2="1229.5" stroke="#4d4d4d" stroke-width="2.2" stroke-linecap="butt"/>
<line x1="196.9" y1="1221.9" x2="211.5" y2="1221.9" stroke="#4d4d4d" stroke-width="2.2" stroke-linecap="butt"/>
<rect x="233.4" y="1233.4" width="28.7" height="282.5" fill="#aec7e8"/>
<line x1="247.7" y1="1227.5" x2="247.7" y2="1233.4" stroke="#22357f" stroke-width="2.2" stroke-linecap="butt"/>
<line x1="240.4" y1="1227.5" x2="255.0" y2="1227.5" stroke="#22357f" stroke-width="2.2" stroke-linecap="butt"/>
<rect x="276.9" y="1226.2" width="28.4" height="289.8" fill="#e8c6cb"/>
<line x1="291.1" y1="1220.9" x2="291.1" y2="1226.2" stroke="#b37b82" stroke-width="2.2" stroke-linecap="butt"/>
<line x1="283.8" y1="1220.9" x2="298.4" y2="1220.9" stroke="#b37b82" stroke-width="2.2" stroke-linecap="butt"/>
<rect x="320.4" y="1231.1" width="28.4" height="284.8" fill="#c5c3e3"/>
<line x1="334.6" y1="1224.5" x2="334.6" y2="1231.1" stroke="#5959b5" stroke-width="2.2" stroke-linecap="butt"/>
<line x1="327.3" y1="1224.5" x2="341.9" y2="1224.5" stroke="#5959b5" stroke-width="2.2" stroke-linecap="butt"/>
<rect x="393.0" y="1337.9" width="28.4" height="178.0" fill="#b8bab8"/>
<line x1="407.1" y1="1331.7" x2="407.1" y2="1337.9" stroke="#4d4d4d" stroke-width="2.2" stroke-linecap="butt"/>
<line x1="399.8" y1="1331.7" x2="414.4" y2="1331.7" stroke="#4d4d4d" stroke-width="2.2" stroke-linecap="butt"/>
<rect x="436.2" y="1418.7" width="28.7" height="97.3" fill="#aec7e8"/>
<line x1="450.5" y1="1413.4" x2="450.5" y2="1418.7" stroke="#22357f" stroke-width="2.2" stroke-linecap="butt"/>
<line x1="443.2" y1="1413.4" x2="457.8" y2="1413.4" stroke="#22357f" stroke-width="2.2" stroke-linecap="butt"/>
<rect x="479.7" y="1282.9" width="28.4" height="233.1" fill="#e8c6cb"/>
<line x1="493.9" y1="1270.7" x2="493.9" y2="1282.9" stroke="#b37b82" stroke-width="2.2" stroke-linecap="butt"/>
<line x1="486.6" y1="1270.7" x2="501.2" y2="1270.7" stroke="#b37b82" stroke-width="2.2" stroke-linecap="butt"/>
<rect x="523.5" y="1341.9" width="28.0" height="174.1" fill="#c5c3e3"/>
<line x1="537.5" y1="1326.7" x2="537.5" y2="1341.9" stroke="#5959b5" stroke-width="2.2" stroke-linecap="butt"/>
<line x1="530.2" y1="1326.7" x2="544.8" y2="1326.7" stroke="#5959b5" stroke-width="2.2" stroke-linecap="butt"/>
<line x1="174.7" y1="1168.9" x2="174.7" y2="1517.6" stroke="#000" stroke-width="3.4000000000000004" stroke-linecap="butt"/>
<line x1="154.3" y1="1515.9" x2="567.7" y2="1515.9" stroke="#000" stroke-width="3.4000000000000004" stroke-linecap="butt"/>
<line x1="154.3" y1="1230.8" x2="174.7" y2="1230.8" stroke="#000" stroke-width="3.7" stroke-linecap="butt"/>
<text x="148.8" y="1240.9" font-size="31" text-anchor="end">100</text>
<line x1="154.3" y1="1301.7" x2="174.7" y2="1301.7" stroke="#000" stroke-width="3.7" stroke-linecap="butt"/>
<text x="148.8" y="1311.7" font-size="31" text-anchor="end">75</text>
<line x1="154.3" y1="1372.9" x2="174.7" y2="1372.9" stroke="#000" stroke-width="3.7" stroke-linecap="butt"/>
<text x="148.8" y="1383.0" font-size="31" text-anchor="end">50</text>
<line x1="154.3" y1="1444.4" x2="174.7" y2="1444.4" stroke="#000" stroke-width="3.7" stroke-linecap="butt"/>
<text x="148.8" y="1454.5" font-size="31" text-anchor="end">25</text>
<text x="148.8" y="1526.0" font-size="31" text-anchor="end">0</text>
<line x1="268.7" y1="1515.9" x2="268.7" y2="1536.7" stroke="#000" stroke-width="3.7" stroke-linecap="butt"/>
<line x1="471.4" y1="1515.9" x2="471.4" y2="1536.7" stroke="#000" stroke-width="3.7" stroke-linecap="butt"/>
<text x="77.6" y="1337.4" font-size="31.4" text-anchor="middle" transform="rotate(-90 77.6 1337.4)">Cell viability (%)</text>
<text x="270.3" y="1568.0" font-size="32.0" text-anchor="middle">DMSO</text>
<text x="472.7" y="1568.0" font-size="32.0" text-anchor="middle">RSL3</text>
<line x1="408.8" y1="1254.7" x2="488.9" y2="1254.7" stroke="#000" stroke-width="3.2" stroke-linecap="butt"/>
<text x="448.6" y="1251.6" font-size="29" text-anchor="middle" stroke="#000" stroke-width="0.5">***</text>
<line x1="497.8" y1="1254.7" x2="543.0" y2="1254.7" stroke="#000" stroke-width="2.6" stroke-linecap="butt"/>
<text x="520.2" y="1251.6" font-size="29" text-anchor="middle" stroke="#000" stroke-width="0.5">**</text>
<line x1="407.1" y1="1310.6" x2="452.3" y2="1310.6" stroke="#000" stroke-width="2.6" stroke-linecap="butt"/>
<text x="431.0" y="1308.4" font-size="29" text-anchor="middle" stroke="#000" stroke-width="0.5">***</text>
<rect x="580.6" y="1157.9" width="53.0" height="14.4" fill="#b8bab8"/>
<text x="664.4" y="1177.1" font-size="31.7" text-anchor="start">EV+sh-NC</text>
<rect x="580.6" y="1200.6" width="53.0" height="14.4" fill="#aec7e8"/>
<text x="664.4" y="1219.5" font-size="31.7" text-anchor="start">EV+sh-ALDH1A3</text>
<rect x="580.6" y="1243.2" width="53.0" height="14.4" fill="#e8c6cb"/>
<text x="664.4" y="1261.9" font-size="31.7" text-anchor="start">SETD7+sh-NC</text>
<rect x="580.6" y="1285.9" width="53.0" height="14.4" fill="#c5c3e3"/>
<text x="664.4" y="1304.3" font-size="31.7" text-anchor="start">SETD7+sh-ALDH1A3</text>
<text x="1378.3" y="1146.7" font-size="31.5" text-anchor="middle">KYSE150</text>
<rect x="1178.0" y="1458.2" width="29.0" height="49.8" fill="#b8bab8"/>
<line x1="1192.5" y1="1455.3" x2="1192.5" y2="1458.2" stroke="#4d4d4d" stroke-width="2.2" stroke-linecap="butt"/>
<line x1="1185.2" y1="1455.3" x2="1199.8" y2="1455.3" stroke="#4d4d4d" stroke-width="2.2" stroke-linecap="butt"/>
<rect x="1222.9" y="1446.7" width="29.3" height="61.3" fill="#aec7e8"/>
<line x1="1237.5" y1="1441.8" x2="1237.5" y2="1446.7" stroke="#22357f" stroke-width="2.2" stroke-linecap="butt"/>
<line x1="1230.2" y1="1441.8" x2="1244.8" y2="1441.8" stroke="#22357f" stroke-width="2.2" stroke-linecap="butt"/>
<rect x="1267.4" y="1461.2" width="29.3" height="46.8" fill="#e8c6cb"/>
<line x1="1282.0" y1="1454.3" x2="1282.0" y2="1461.2" stroke="#b37b82" stroke-width="2.2" stroke-linecap="butt"/>
<line x1="1274.7" y1="1454.3" x2="1289.3" y2="1454.3" stroke="#b37b82" stroke-width="2.2" stroke-linecap="butt"/>
<rect x="1312.2" y="1459.6" width="29.3" height="48.5" fill="#c5c3e3"/>
<line x1="1326.9" y1="1456.3" x2="1326.9" y2="1459.6" stroke="#5959b5" stroke-width="2.2" stroke-linecap="butt"/>
<line x1="1319.6" y1="1456.3" x2="1334.2" y2="1456.3" stroke="#5959b5" stroke-width="2.2" stroke-linecap="butt"/>
<rect x="1387.4" y="1402.5" width="29.0" height="105.5" fill="#b8bab8"/>
<line x1="1401.9" y1="1394.6" x2="1401.9" y2="1402.5" stroke="#4d4d4d" stroke-width="2.2" stroke-linecap="butt"/>
<line x1="1394.6" y1="1394.6" x2="1409.2" y2="1394.6" stroke="#4d4d4d" stroke-width="2.2" stroke-linecap="butt"/>
<rect x="1431.9" y="1310.6" width="29.0" height="197.5" fill="#aec7e8"/>
<line x1="1446.4" y1="1279.2" x2="1446.4" y2="1310.6" stroke="#22357f" stroke-width="2.2" stroke-linecap="butt"/>
<line x1="1439.1" y1="1279.2" x2="1453.7" y2="1279.2" stroke="#22357f" stroke-width="2.2" stroke-linecap="butt"/>
<rect x="1477.0" y="1435.8" width="28.7" height="72.2" fill="#e8c6cb"/>
<line x1="1491.4" y1="1430.9" x2="1491.4" y2="1435.8" stroke="#b37b82" stroke-width="2.2" stroke-linecap="butt"/>
<line x1="1484.1" y1="1430.9" x2="1498.7" y2="1430.9" stroke="#b37b82" stroke-width="2.2" stroke-linecap="butt"/>
<rect x="1521.5" y="1385.7" width="29.0" height="122.3" fill="#c5c3e3"/>
<line x1="1536.0" y1="1367.6" x2="1536.0" y2="1385.7" stroke="#5959b5" stroke-width="2.2" stroke-linecap="butt"/>
<line x1="1528.7" y1="1367.6" x2="1543.3" y2="1367.6" stroke="#5959b5" stroke-width="2.2" stroke-linecap="butt"/>
<line x1="1163.0" y1="1202.5" x2="1163.0" y2="1509.7" stroke="#000" stroke-width="3.4000000000000004" stroke-linecap="butt"/>
<line x1="1141.2" y1="1508.0" x2="1567.7" y2="1508.0" stroke="#000" stroke-width="3.4000000000000004" stroke-linecap="butt"/>
<line x1="1141.2" y1="1204.4" x2="1163.0" y2="1204.4" stroke="#000" stroke-width="3.7" stroke-linecap="butt"/>
<text x="1135.7" y="1214.5" font-size="31" text-anchor="end">6</text>
<line x1="1141.2" y1="1305.9" x2="1163.0" y2="1305.9" stroke="#000" stroke-width="3.7" stroke-linecap="butt"/>
<text x="1135.7" y="1316.0" font-size="31" text-anchor="end">4</text>
<line x1="1141.2" y1="1407.1" x2="1163.0" y2="1407.1" stroke="#000" stroke-width="3.7" stroke-linecap="butt"/>
<text x="1135.7" y="1417.2" font-size="31" text-anchor="end">2</text>
<line x1="1259.5" y1="1508.0" x2="1259.5" y2="1529.1" stroke="#000" stroke-width="3.7" stroke-linecap="butt"/>
<line x1="1468.1" y1="1508.0" x2="1468.1" y2="1529.1" stroke="#000" stroke-width="3.7" stroke-linecap="butt"/>
<text x="1135.7" y="1524.1" font-size="31" text-anchor="end">0</text>
<text x="1097.8" y="1358.3" font-size="32.3" text-anchor="middle" transform="rotate(-90 1097.8 1358.3)">Ralative MDA concentration</text>
<text x="1258.5" y="1568.0" font-size="32.0" text-anchor="middle">DMSO</text>
<text x="1467.0" y="1568.0" font-size="32.0" text-anchor="middle">RSL3</text>
<line x1="1402.9" y1="1224.8" x2="1490.2" y2="1224.8" stroke="#000" stroke-width="2.6" stroke-linecap="butt"/>
<text x="1447.2" y="1222.6" font-size="29" text-anchor="middle" stroke="#000" stroke-width="0.5">*</text>
<line x1="1403.9" y1="1267.0" x2="1447.4" y2="1267.0" stroke="#000" stroke-width="2.6" stroke-linecap="butt"/>
<text x="1425.1" y="1264.8" font-size="29" text-anchor="middle" stroke="#000" stroke-width="0.5">***</text>
<line x1="1495.5" y1="1351.4" x2="1533.1" y2="1351.4" stroke="#000" stroke-width="2.6" stroke-linecap="butt"/>
<text x="1513.8" y="1349.2" font-size="29" text-anchor="middle" stroke="#000" stroke-width="0.5">**</text>
<rect x="1568.7" y="1155.6" width="54.4" height="14.4" fill="#b8bab8"/>
<text x="1655.5" y="1174.0" font-size="31.7" text-anchor="start">EV+sh-NC</text>
<rect x="1568.7" y="1199.5" width="54.4" height="14.4" fill="#aec7e8"/>
<text x="1655.5" y="1218.0" font-size="31.7" text-anchor="start">EV+sh-ALDH1A3</text>
<rect x="1568.7" y="1243.4" width="54.4" height="14.4" fill="#e8c6cb"/>
<text x="1655.5" y="1262.0" font-size="31.7" text-anchor="start">SETD7+sh-NC</text>
<rect x="1568.7" y="1287.3" width="54.4" height="14.4" fill="#c5c3e3"/>
<text x="1655.5" y="1306.0" font-size="31.7" text-anchor="start">SETD7+sh-ALDH1A3</text>
<text x="323.0" y="1650.2" font-size="31.5" text-anchor="middle">Eca109</text>
<rect x="206.7" y="1899.1" width="59.0" height="196.2" fill="#b8bab8"/>
<line x1="236.2" y1="1884.6" x2="236.2" y2="1899.1" stroke="#4d4d4d" stroke-width="2.2" stroke-linecap="butt"/>
<line x1="221.7" y1="1884.6" x2="250.7" y2="1884.6" stroke="#4d4d4d" stroke-width="2.2" stroke-linecap="butt"/>
<rect x="295.4" y="1769.6" width="59.0" height="325.7" fill="#aec7e8"/>
<line x1="324.9" y1="1750.1" x2="324.9" y2="1769.6" stroke="#22357f" stroke-width="2.2" stroke-linecap="butt"/>
<line x1="310.4" y1="1750.1" x2="339.4" y2="1750.1" stroke="#22357f" stroke-width="2.2" stroke-linecap="butt"/>
<rect x="384.4" y="1856.6" width="59.0" height="238.7" fill="#e8c6cb"/>
<line x1="413.9" y1="1826.3" x2="413.9" y2="1856.6" stroke="#b37b82" stroke-width="2.2" stroke-linecap="butt"/>
<line x1="399.4" y1="1826.3" x2="428.4" y2="1826.3" stroke="#b37b82" stroke-width="2.2" stroke-linecap="butt"/>
<line x1="177.4" y1="1699.0" x2="177.4" y2="2097.1" stroke="#000" stroke-width="3.7" stroke-linecap="butt"/>
<line x1="155.6" y1="2095.3" x2="474.7" y2="2095.3" stroke="#000" stroke-width="3.7" stroke-linecap="butt"/>
<line x1="155.6" y1="1701.0" x2="177.4" y2="1701.0" stroke="#000" stroke-width="4.0" stroke-linecap="butt"/>
<text x="151.0" y="1711.1" font-size="31" text-anchor="end">2.0</text>
<line x1="155.6" y1="1799.6" x2="177.4" y2="1799.6" stroke="#000" stroke-width="4.0" stroke-linecap="butt"/>
<text x="151.0" y="1809.7" font-size="31" text-anchor="end">1.5</text>
<line x1="155.6" y1="1898.5" x2="177.4" y2="1898.5" stroke="#000" stroke-width="4.0" stroke-linecap="butt"/>
<text x="151.0" y="1908.6" font-size="31" text-anchor="end">1.0</text>
<line x1="155.6" y1="1996.4" x2="177.4" y2="1996.4" stroke="#000" stroke-width="4.0" stroke-linecap="butt"/>
<text x="151.0" y="2006.5" font-size="31" text-anchor="end">0.5</text>
<text x="151.0" y="2105.4" font-size="31" text-anchor="end">0.0</text>
<line x1="235.1" y1="2095.3" x2="235.1" y2="2116.0" stroke="#000" stroke-width="4.0" stroke-linecap="butt"/>
<line x1="324.7" y1="2095.3" x2="324.7" y2="2116.0" stroke="#000" stroke-width="4.0" stroke-linecap="butt"/>
<line x1="413.7" y1="2095.3" x2="413.7" y2="2116.0" stroke="#000" stroke-width="4.0" stroke-linecap="butt"/>
<text x="85.6" y="1894.4" font-size="31.4" text-anchor="middle" transform="rotate(-90 85.6 1894.4)">Relative NAD+/NADH ratio</text>
<line x1="233.4" y1="1732.3" x2="316.5" y2="1732.3" stroke="#000" stroke-width="2.6" stroke-linecap="butt"/>
<text x="276.8" y="1730.3" font-size="29" text-anchor="middle" stroke="#000" stroke-width="0.5">***</text>
<line x1="335.3" y1="1733.3" x2="418.7" y2="1733.3" stroke="#000" stroke-width="2.6" stroke-linecap="butt"/>
<text x="377.8" y="1731.3" font-size="29" text-anchor="middle" stroke="#000" stroke-width="0.5">*</text>
<text x="198.5" y="2162.6" font-size="32.3" text-anchor="end">sh-SETD7</text>
<text x="199.0" y="2207.8" font-size="32.3" text-anchor="end">ALDH1A3</text>
<text x="238.0" y="2162.9" font-size="40" text-anchor="middle">-</text>
<text x="326.4" y="2163.9" font-size="40" text-anchor="middle">+</text>
<text x="411.5" y="2163.9" font-size="40" text-anchor="middle">+</text>
<text x="238.0" y="2208.4" font-size="40" text-anchor="middle">-</text>
<text x="326.4" y="2208.4" font-size="40" text-anchor="middle">-</text>
<text x="411.5" y="2210.4" font-size="40" text-anchor="middle">+</text>
<text x="928.5" y="1650.2" font-size="31.5" text-anchor="middle">KYSE150</text>
<rect x="812.4" y="1834.2" width="59.0" height="262.1" fill="#b8bab8"/>
<line x1="841.9" y1="1820.0" x2="841.9" y2="1834.2" stroke="#4d4d4d" stroke-width="2.2" stroke-linecap="butt"/>
<line x1="827.4" y1="1820.0" x2="856.4" y2="1820.0" stroke="#4d4d4d" stroke-width="2.2" stroke-linecap="butt"/>
<rect x="901.1" y="1938.4" width="59.7" height="157.9" fill="#aec7e8"/>
<line x1="930.9" y1="1918.2" x2="930.9" y2="1938.4" stroke="#22357f" stroke-width="2.2" stroke-linecap="butt"/>
<line x1="916.4" y1="1918.2" x2="945.4" y2="1918.2" stroke="#22357f" stroke-width="2.2" stroke-linecap="butt"/>
<rect x="990.1" y="1884.6" width="59.3" height="211.7" fill="#e8c6cb"/>
<line x1="1019.8" y1="1868.5" x2="1019.8" y2="1884.6" stroke="#b37b82" stroke-width="2.2" stroke-linecap="butt"/>
<line x1="1005.3" y1="1868.5" x2="1034.3" y2="1868.5" stroke="#b37b82" stroke-width="2.2" stroke-linecap="butt"/>
<line x1="783.4" y1="1700.5" x2="783.4" y2="2098.1" stroke="#000" stroke-width="3.7" stroke-linecap="butt"/>
<line x1="762.0" y1="2096.3" x2="1081.1" y2="2096.3" stroke="#000" stroke-width="3.7" stroke-linecap="butt"/>
<line x1="762.0" y1="1702.5" x2="783.4" y2="1702.5" stroke="#000" stroke-width="4.0" stroke-linecap="butt"/>
<text x="757.4" y="1712.6" font-size="31" text-anchor="end">1.5</text>
<line x1="762.0" y1="1834.2" x2="783.4" y2="1834.2" stroke="#000" stroke-width="4.0" stroke-linecap="butt"/>
<text x="757.4" y="1844.3" font-size="31" text-anchor="end">1.0</text>
<line x1="762.0" y1="1965.1" x2="783.4" y2="1965.1" stroke="#000" stroke-width="4.0" stroke-linecap="butt"/>
<text x="757.4" y="1975.2" font-size="31" text-anchor="end">0.5</text>
<text x="757.4" y="2106.4" font-size="31" text-anchor="end">0.0</text>
<line x1="841.4" y1="2096.3" x2="841.4" y2="2117.0" stroke="#000" stroke-width="4.0" stroke-linecap="butt"/>
<line x1="930.4" y1="2096.3" x2="930.4" y2="2117.0" stroke="#000" stroke-width="4.0" stroke-linecap="butt"/>
<line x1="1019.5" y1="2096.3" x2="1019.5" y2="2117.0" stroke="#000" stroke-width="4.0" stroke-linecap="butt"/>
<text x="692.1" y="1894.4" font-size="31.4" text-anchor="middle" transform="rotate(-90 692.1 1894.4)">Relative NAD+/NADH ratio</text>
<line x1="842.1" y1="1792.3" x2="924.5" y2="1792.3" stroke="#000" stroke-width="2.6" stroke-linecap="butt"/>
<text x="886.5" y="1790.3" font-size="29" text-anchor="middle" stroke="#000" stroke-width="0.5">**</text>
<line x1="938.4" y1="1854.3" x2="1021.8" y2="1854.3" stroke="#000" stroke-width="2.6" stroke-linecap="butt"/>
<text x="978.6" y="1852.3" font-size="29" text-anchor="middle" stroke="#000" stroke-width="0.5">*</text>
<text x="821.5" y="2162.6" font-size="32.3" text-anchor="end">SETD7</text>
<text x="823.0" y="2207.8" font-size="32.3" text-anchor="end">sh-ALDH1A3</text>
<text x="843.8" y="2162.9" font-size="40" text-anchor="middle">-</text>
<text x="932.1" y="2163.9" font-size="40" text-anchor="middle">+</text>
<text x="1017.5" y="2163.9" font-size="40" text-anchor="middle">+</text>
<text x="843.8" y="2208.4" font-size="40" text-anchor="middle">-</text>
<text x="932.1" y="2208.4" font-size="40" text-anchor="middle">-</text>
<text x="1017.5" y="2210.4" font-size="40" text-anchor="middle">+</text>
<text x="1537.2" y="1650.2" font-size="31.5" text-anchor="middle">Eca109</text>
<rect x="1416.7" y="1836.8" width="58.0" height="258.5" fill="#b8bab8"/>
<line x1="1445.7" y1="1792.0" x2="1445.7" y2="1836.8" stroke="#4d4d4d" stroke-width="2.2" stroke-linecap="butt"/>
<line x1="1431.2" y1="1792.0" x2="1460.2" y2="1792.0" stroke="#4d4d4d" stroke-width="2.2" stroke-linecap="butt"/>
<rect x="1504.1" y="1977.6" width="58.4" height="117.7" fill="#aec7e8"/>
<line x1="1533.2" y1="1953.8" x2="1533.2" y2="1977.6" stroke="#22357f" stroke-width="2.2" stroke-linecap="butt"/>
<line x1="1518.7" y1="1953.8" x2="1547.7" y2="1953.8" stroke="#22357f" stroke-width="2.2" stroke-linecap="butt"/>
<rect x="1592.1" y="1906.0" width="57.7" height="189.2" fill="#e8c6cb"/>
<line x1="1620.9" y1="1879.3" x2="1620.9" y2="1906.0" stroke="#b37b82" stroke-width="2.2" stroke-linecap="butt"/>
<line x1="1606.4" y1="1879.3" x2="1635.4" y2="1879.3" stroke="#b37b82" stroke-width="2.2" stroke-linecap="butt"/>
<line x1="1387.7" y1="1704.3" x2="1387.7" y2="2097.1" stroke="#000" stroke-width="3.7" stroke-linecap="butt"/>
<line x1="1366.9" y1="2095.3" x2="1681.1" y2="2095.3" stroke="#000" stroke-width="3.7" stroke-linecap="butt"/>
<line x1="1366.9" y1="1706.3" x2="1387.7" y2="1706.3" stroke="#000" stroke-width="4.0" stroke-linecap="butt"/>
<text x="1362.3" y="1716.4" font-size="31" text-anchor="end">1.5</text>
<line x1="1366.9" y1="1836.5" x2="1387.7" y2="1836.5" stroke="#000" stroke-width="4.0" stroke-linecap="butt"/>
<text x="1362.3" y="1846.6" font-size="31" text-anchor="end">1.0</text>
<line x1="1366.9" y1="1966.0" x2="1387.7" y2="1966.0" stroke="#000" stroke-width="4.0" stroke-linecap="butt"/>
<text x="1362.3" y="1976.1" font-size="31" text-anchor="end">0.5</text>
<text x="1362.3" y="2105.4" font-size="31" text-anchor="end">0.0</text>
<line x1="1444.7" y1="2095.3" x2="1444.7" y2="2116.0" stroke="#000" stroke-width="4.0" stroke-linecap="butt"/>
<line x1="1532.8" y1="2095.3" x2="1532.8" y2="2116.0" stroke="#000" stroke-width="4.0" stroke-linecap="butt"/>
<line x1="1620.1" y1="2095.3" x2="1620.1" y2="2116.0" stroke="#000" stroke-width="4.0" stroke-linecap="butt"/>
<text x="1292.6" y="1888.6" font-size="31.1" text-anchor="middle" transform="rotate(-90 1292.6 1888.6)">Relative CoQ10H<tspan font-size="19.5" dy="9.3">2</tspan><tspan dy="-9.3">/CoQ10 ratio</tspan></text>
<line x1="1443.1" y1="1751.8" x2="1523.5" y2="1751.8" stroke="#000" stroke-width="2.6" stroke-linecap="butt"/>
<text x="1484.2" y="1749.8" font-size="29" text-anchor="middle" stroke="#000" stroke-width="0.5">**</text>
<line x1="1541.0" y1="1853.6" x2="1620.8" y2="1853.6" stroke="#000" stroke-width="2.6" stroke-linecap="butt"/>
<text x="1584.0" y="1851.6" font-size="29" text-anchor="middle" stroke="#000" stroke-width="0.5">*</text>
<text x="1404.8" y="2162.6" font-size="32.3" text-anchor="end">sh-SETD7</text>
<text x="1405.3" y="2207.8" font-size="32.3" text-anchor="end">ALDH1A3</text>
<text x="1443.8" y="2162.9" font-size="40" text-anchor="middle">-</text>
<text x="1532.1" y="2163.9" font-size="40" text-anchor="middle">+</text>
<text x="1617.5" y="2163.9" font-size="40" text-anchor="middle">+</text>
<text x="1443.8" y="2208.4" font-size="40" text-anchor="middle">-</text>
<text x="1532.1" y="2208.4" font-size="40" text-anchor="middle">-</text>
<text x="1617.5" y="2210.4" font-size="40" text-anchor="middle">+</text>
</svg></body></html>
